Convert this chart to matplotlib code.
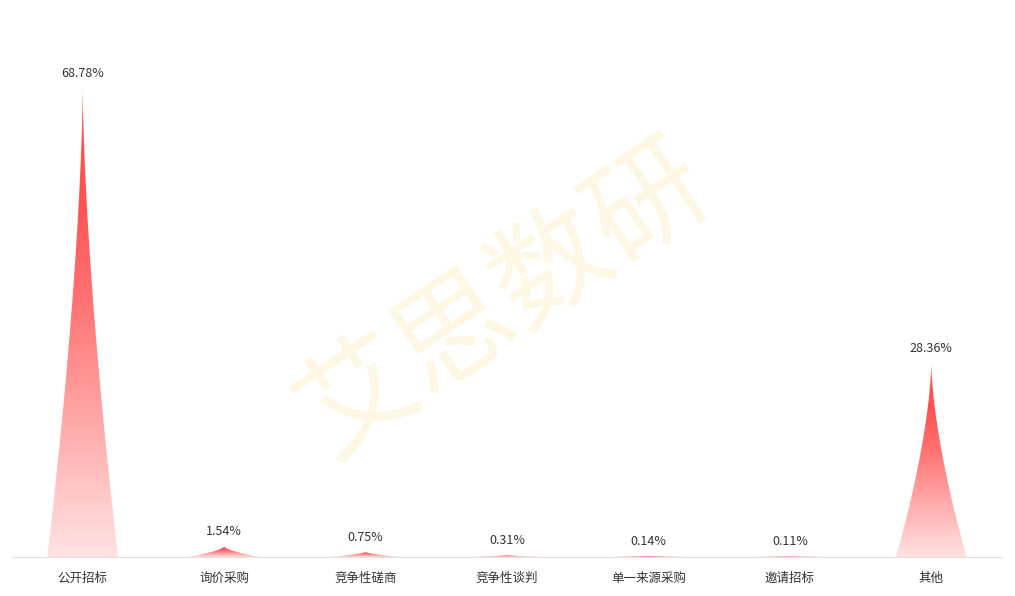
import numpy as np
import matplotlib
matplotlib.use('Agg')
import matplotlib.pyplot as plt
from matplotlib.path import Path
from matplotlib.patches import PathPatch
from matplotlib.colors import LinearSegmentedColormap

plt.rcParams['font.family'] = ['Noto Sans CJK SC', 'DejaVu Sans']

# data
categories = ['公开招标', '询价采购', '竞争性磋商', '竞争性谈判', '单一来源采购', '邀请招标', '其他']
values = [68.78, 1.54, 0.75, 0.31, 0.14, 0.11, 28.36]
labels = ['68.78%', '1.54%', '0.75%', '0.31%', '0.14%', '0.11%', '28.36%']

fig = plt.figure(figsize=(10.15, 5.96), dpi=100)
ax = fig.add_axes([12 / 1015, 39 / 596, 990 / 1015, 545 / 596])

# gradient, bottom -> top
cmap = LinearSegmentedColormap.from_list(
    'peak', [(0, '#ffe2e2'), (0.3, '#ffa6a6'), (0.55, '#ff7272'), (0.75, '#ff5454'), (1, '#ff4d4d')])
grad = np.linspace(0, 1, 256).reshape(-1, 1)


def peak_path(xc, h, w):
    # concave spike: half width shrinks as (1 - frac)^1.55 toward the tip
    f = np.linspace(0, 1, 200)
    half = (w / 2) * (1 - f) ** 1.55
    xs = np.concatenate([xc - half, (xc + half)[::-1]])
    ys = np.concatenate([f * h, (f * h)[::-1]])
    return Path(np.column_stack([xs, ys]))


bw = 0.5
for i, (v, lab) in enumerate(zip(values, labels)):
    patch = PathPatch(peak_path(i, v, bw), facecolor='none', edgecolor='none')
    ax.add_patch(patch)
    im = ax.imshow(grad, cmap=cmap, origin='lower', aspect='auto',
                   extent=[i - bw / 2, i + bw / 2, 0, v], zorder=2)
    im.set_clip_path(patch)
    ax.annotate(lab, (i, v), xytext=(0, 6), textcoords='offset points',
                ha='center', va='bottom', fontsize=9, color='#333333')

# watermark
fig.text(0.497, 0.497, '艾思数研', fontsize=84, color='#fdf7e3', rotation=34,
         ha='center', va='center', zorder=0)

ax.set_xlim(-0.5, len(categories) - 0.5)
ax.set_ylim(0, 80)
ax.set_xticks(range(len(categories)))
ax.set_xticklabels(categories, fontsize=9, color='#333333')
ax.tick_params(axis='x', length=0, pad=11)
ax.set_yticks([])
for s in ['top', 'right', 'left']:
    ax.spines[s].set_visible(False)
ax.spines['bottom'].set_color('#e0e0e0')
ax.patch.set_alpha(0)

fig.savefig('out.png', dpi=100)
